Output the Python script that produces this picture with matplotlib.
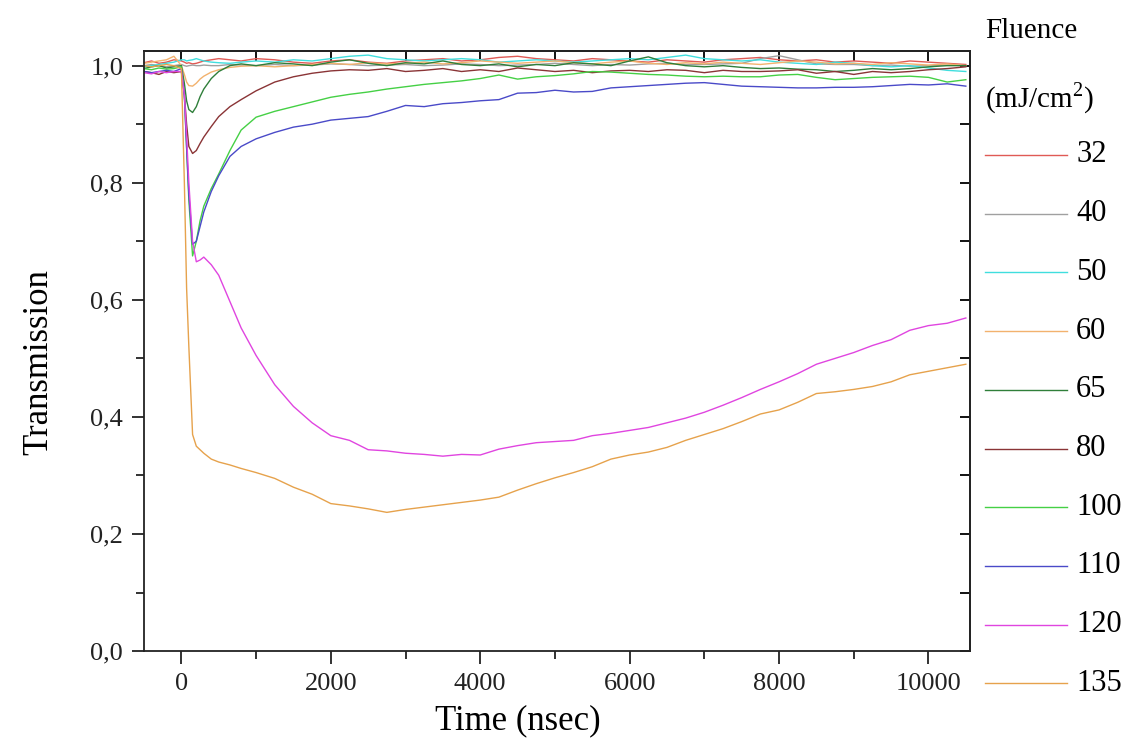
import matplotlib
matplotlib.use('Agg')
import matplotlib.pyplot as plt
from matplotlib.lines import Line2D
from matplotlib.ticker import MultipleLocator, FuncFormatter

plt.rcParams['font.family'] = ['Liberation Serif', 'DejaVu Serif']
plt.rcParams['mathtext.fontset'] = 'custom'
plt.rcParams['mathtext.rm'] = 'Liberation Serif'

# time grid (ns)
time_ns = [-500, -400, -300, -200, -100, 0, 40, 70, 100, 150, 200, 250, 300, 400, 500, 650, 800,
           1000, 1250, 1500, 1750, 2000, 2250, 2500, 2750, 3000, 3250, 3500, 3750, 4000, 4250,
           4500, 4750, 5000, 5250, 5500, 5750, 6000, 6250, 6500, 6750, 7000, 7250, 7500, 7750,
           8000, 8250, 8500, 8750, 9000, 9250, 9500, 9750, 10000, 10250, 10500]

fluence = ['32', '40', '50', '60', '65', '80', '100', '110', '120', '135']
colors = ['#e05a55', '#a0a0a0', '#40dede', '#f2b26e', '#2f7f3a', '#8a3436',
          '#45d045', '#4a4ac8', '#e045e0', '#e6a24c']

t_32 = [1.005, 1.008, 1.004, 1.006, 1.010, 1.008, 1.006, 1.004, 1.005, 1.003, 1.004, 1.006, 1.008, 1.010, 1.012, 1.010, 1.008,
        1.012, 1.010, 1.006, 1.004, 1.008, 1.010, 1.006, 1.004, 1.008, 1.010, 1.012, 1.008, 1.010, 1.014, 1.016, 1.012,
        1.010, 1.008, 1.012, 1.010, 1.008, 1.006, 1.010, 1.008, 1.006, 1.010, 1.012, 1.014, 1.010, 1.008, 1.010, 1.006,
        1.008, 1.006, 1.004, 1.008, 1.006, 1.004, 1.002]
t_40 = [1.000, 1.002, 1.000, 0.998, 1.000, 1.002, 1.000, 0.999, 1.000, 1.001, 1.000, 1.000, 1.001, 1.000, 1.000, 1.002, 1.001,
        1.000, 1.002, 1.000, 1.001, 1.003, 1.002, 1.000, 1.001, 1.002, 1.000, 1.001, 1.003, 1.002, 1.000, 1.001, 1.002,
        1.004, 1.002, 1.000, 1.002, 1.001, 1.003, 1.004, 1.002, 1.002, 1.003, 1.004, 1.012, 1.017, 1.010, 1.003, 1.002,
        1.002, 1.000, 1.001, 0.999, 1.000, 1.001, 1.000]
t_50 = [0.998, 1.000, 1.002, 1.004, 1.006, 1.010, 1.010, 1.008, 1.009, 1.010, 1.012, 1.010, 1.008, 1.006, 1.005, 1.004, 1.006,
        1.008, 1.006, 1.010, 1.008, 1.012, 1.016, 1.018, 1.012, 1.010, 1.008, 1.010, 1.012, 1.010, 1.006, 1.008, 1.010,
        1.008, 1.006, 1.008, 1.010, 1.012, 1.010, 1.014, 1.018, 1.012, 1.010, 1.008, 1.010, 1.006, 1.004, 1.002, 1.006,
        1.004, 1.000, 0.998, 1.000, 0.996, 0.992, 0.990]
t_60 = [1.004, 1.006, 1.008, 1.010, 1.016, 1.000, 0.985, 0.972, 0.966, 0.965, 0.970, 0.977, 0.982, 0.989, 0.993, 0.997, 0.999,
        1.000, 0.998, 1.000, 1.002, 1.004, 1.002, 1.005, 1.003, 1.004, 1.006, 1.003, 1.005, 1.008, 1.006, 1.004, 1.006,
        1.008, 1.005, 1.003, 1.006, 1.008, 1.004, 1.002, 1.005, 1.003, 1.006, 1.004, 1.002, 1.005, 1.008, 1.006, 1.003,
        1.004, 1.002, 1.005, 1.003, 1.001, 1.003, 1.000]
t_65 = [0.995, 0.998, 1.000, 0.996, 0.998, 1.000, 0.970, 0.940, 0.925, 0.920, 0.930, 0.947, 0.960, 0.978, 0.990, 1.000, 1.003,
        1.000, 1.005, 1.003, 1.000, 1.006, 1.010, 1.004, 1.000, 1.005, 1.003, 1.008, 1.002, 1.000, 1.003, 0.998, 1.002,
        1.000, 1.005, 1.003, 1.000, 1.008, 1.015, 1.005, 1.000, 0.998, 1.000, 0.997, 0.995, 0.996, 0.994, 0.993, 0.990,
        0.992, 0.995, 0.993, 0.995, 0.998, 1.000, 1.000]
t_80 = [0.990, 0.988, 0.985, 0.990, 0.988, 0.990, 0.950, 0.900, 0.862, 0.850, 0.855, 0.867, 0.878, 0.896, 0.913, 0.930, 0.942,
        0.957, 0.972, 0.981, 0.987, 0.991, 0.993, 0.992, 0.995, 0.990, 0.992, 0.995, 0.990, 0.993, 0.990, 0.996, 0.993,
        0.990, 0.992, 0.988, 0.991, 0.992, 0.990, 0.993, 0.992, 0.988, 0.992, 0.990, 0.990, 0.991, 0.993, 0.987, 0.990,
        0.985, 0.990, 0.988, 0.990, 0.993, 0.995, 0.998]
t_100 = [0.995, 0.993, 0.996, 0.994, 0.995, 0.998, 0.950, 0.860, 0.770, 0.675, 0.700, 0.735, 0.760, 0.790, 0.815, 0.855, 0.890,
         0.912, 0.922, 0.930, 0.938, 0.946, 0.951, 0.955, 0.960, 0.964, 0.968, 0.971, 0.974, 0.978, 0.984, 0.977, 0.981,
         0.983, 0.986, 0.990, 0.989, 0.987, 0.985, 0.984, 0.982, 0.981, 0.982, 0.981, 0.981, 0.984, 0.985, 0.980, 0.976,
         0.978, 0.980, 0.981, 0.982, 0.980, 0.972, 0.976]
t_110 = [0.990, 0.988, 0.990, 0.992, 0.990, 0.995, 0.950, 0.860, 0.780, 0.695, 0.700, 0.725, 0.750, 0.785, 0.812, 0.845, 0.862,
         0.875, 0.886, 0.895, 0.900, 0.907, 0.910, 0.913, 0.922, 0.932, 0.930, 0.935, 0.937, 0.940, 0.942, 0.953, 0.954,
         0.958, 0.955, 0.956, 0.962, 0.964, 0.966, 0.968, 0.970, 0.971, 0.968, 0.965, 0.964, 0.963, 0.962, 0.962, 0.963,
         0.963, 0.964, 0.966, 0.968, 0.967, 0.969, 0.965]
t_120 = [0.988, 0.986, 0.990, 0.988, 0.990, 0.990, 0.950, 0.880, 0.800, 0.700, 0.665, 0.668, 0.673, 0.660, 0.642, 0.597, 0.552,
         0.505, 0.455, 0.418, 0.390, 0.368, 0.360, 0.344, 0.342, 0.338, 0.336, 0.333, 0.336, 0.335, 0.345, 0.351, 0.356,
         0.358, 0.360, 0.368, 0.372, 0.377, 0.382, 0.390, 0.398, 0.408, 0.420, 0.433, 0.447, 0.460, 0.474, 0.490, 0.500,
         0.510, 0.522, 0.532, 0.548, 0.556, 0.560, 0.569]
t_135 = [1.000, 0.998, 1.000, 1.002, 1.000, 0.995, 0.800, 0.620, 0.520, 0.370, 0.350, 0.344, 0.338, 0.328, 0.323, 0.318, 0.312,
         0.305, 0.295, 0.280, 0.268, 0.252, 0.248, 0.243, 0.237, 0.242, 0.246, 0.250, 0.254, 0.258, 0.263, 0.275, 0.286,
         0.296, 0.305, 0.315, 0.328, 0.335, 0.340, 0.348, 0.360, 0.370, 0.380, 0.392, 0.405, 0.412, 0.425, 0.440, 0.443,
         0.447, 0.452, 0.460, 0.472, 0.478, 0.484, 0.490]

series = [t_32, t_40, t_50, t_60, t_65, t_80, t_100, t_110, t_120, t_135]

fig = plt.figure(figsize=(11.34, 7.45), dpi=100)
ax = fig.add_axes([0.127, 0.126, 0.728, 0.806])

for vals, c in zip(series, colors):
    ax.plot(time_ns, vals, color=c, lw=1.0)

ax.set_xlim(-500, 10550)
ax.set_ylim(0, 1.0256)

comma = FuncFormatter(lambda v, p: f'{v:.1f}'.replace('.', ','))
ax.xaxis.set_major_locator(MultipleLocator(2000))
ax.xaxis.set_minor_locator(MultipleLocator(1000))
ax.yaxis.set_major_locator(MultipleLocator(0.2))
ax.yaxis.set_minor_locator(MultipleLocator(0.1))
ax.yaxis.set_major_formatter(comma)
ax.tick_params(which='both', direction='out', width=1.3, labelsize=19, colors='#222222')
ax.tick_params(which='major', length=9)
ax.tick_params(which='minor', length=6)
ax.tick_params(axis='x', pad=7)
ax.tick_params(axis='y', pad=6)

# inward ticks on top and right
top = ax.secondary_xaxis('top')
top.xaxis.set_major_locator(MultipleLocator(2000))
top.xaxis.set_minor_locator(MultipleLocator(1000))
top.tick_params(which='both', direction='in', length=7, width=1.3, labeltop=False)
right = ax.secondary_yaxis('right')
right.yaxis.set_major_locator(MultipleLocator(0.2))
right.yaxis.set_minor_locator(MultipleLocator(0.1))
right.tick_params(which='both', direction='in', length=7, width=1.3, labelright=False)
for a in (ax, top, right):
    for s in a.spines.values():
        s.set_linewidth(1.3)
        s.set_color('#222222')

ax.set_xlabel('Time (nsec)', fontsize=25)
ax.xaxis.set_label_coords(0.453, -0.088)
ax.set_ylabel('Transmission', fontsize=25)
ax.yaxis.set_label_coords(-0.108, 0.482)

# legend on the right
fig.text(0.8686, 0.958, 'Fluence', fontsize=21, va='center', ha='left')
fig.text(0.8686, 0.868, '(mJ/cm$^{2}$)', fontsize=21, va='center', ha='left')
y0 = 1 - 155 / 745
step = 58.7 / 745
for i, (lab, c) in enumerate(zip(fluence, colors)):
    y = y0 - i * step
    fig.add_artist(Line2D([0.8686, 0.941], [y, y], transform=fig.transFigure, color=c, lw=1.0))
    fig.text(0.949, y, lab, fontsize=22, va='center', ha='left')

fig.savefig('out.png', dpi=100)
